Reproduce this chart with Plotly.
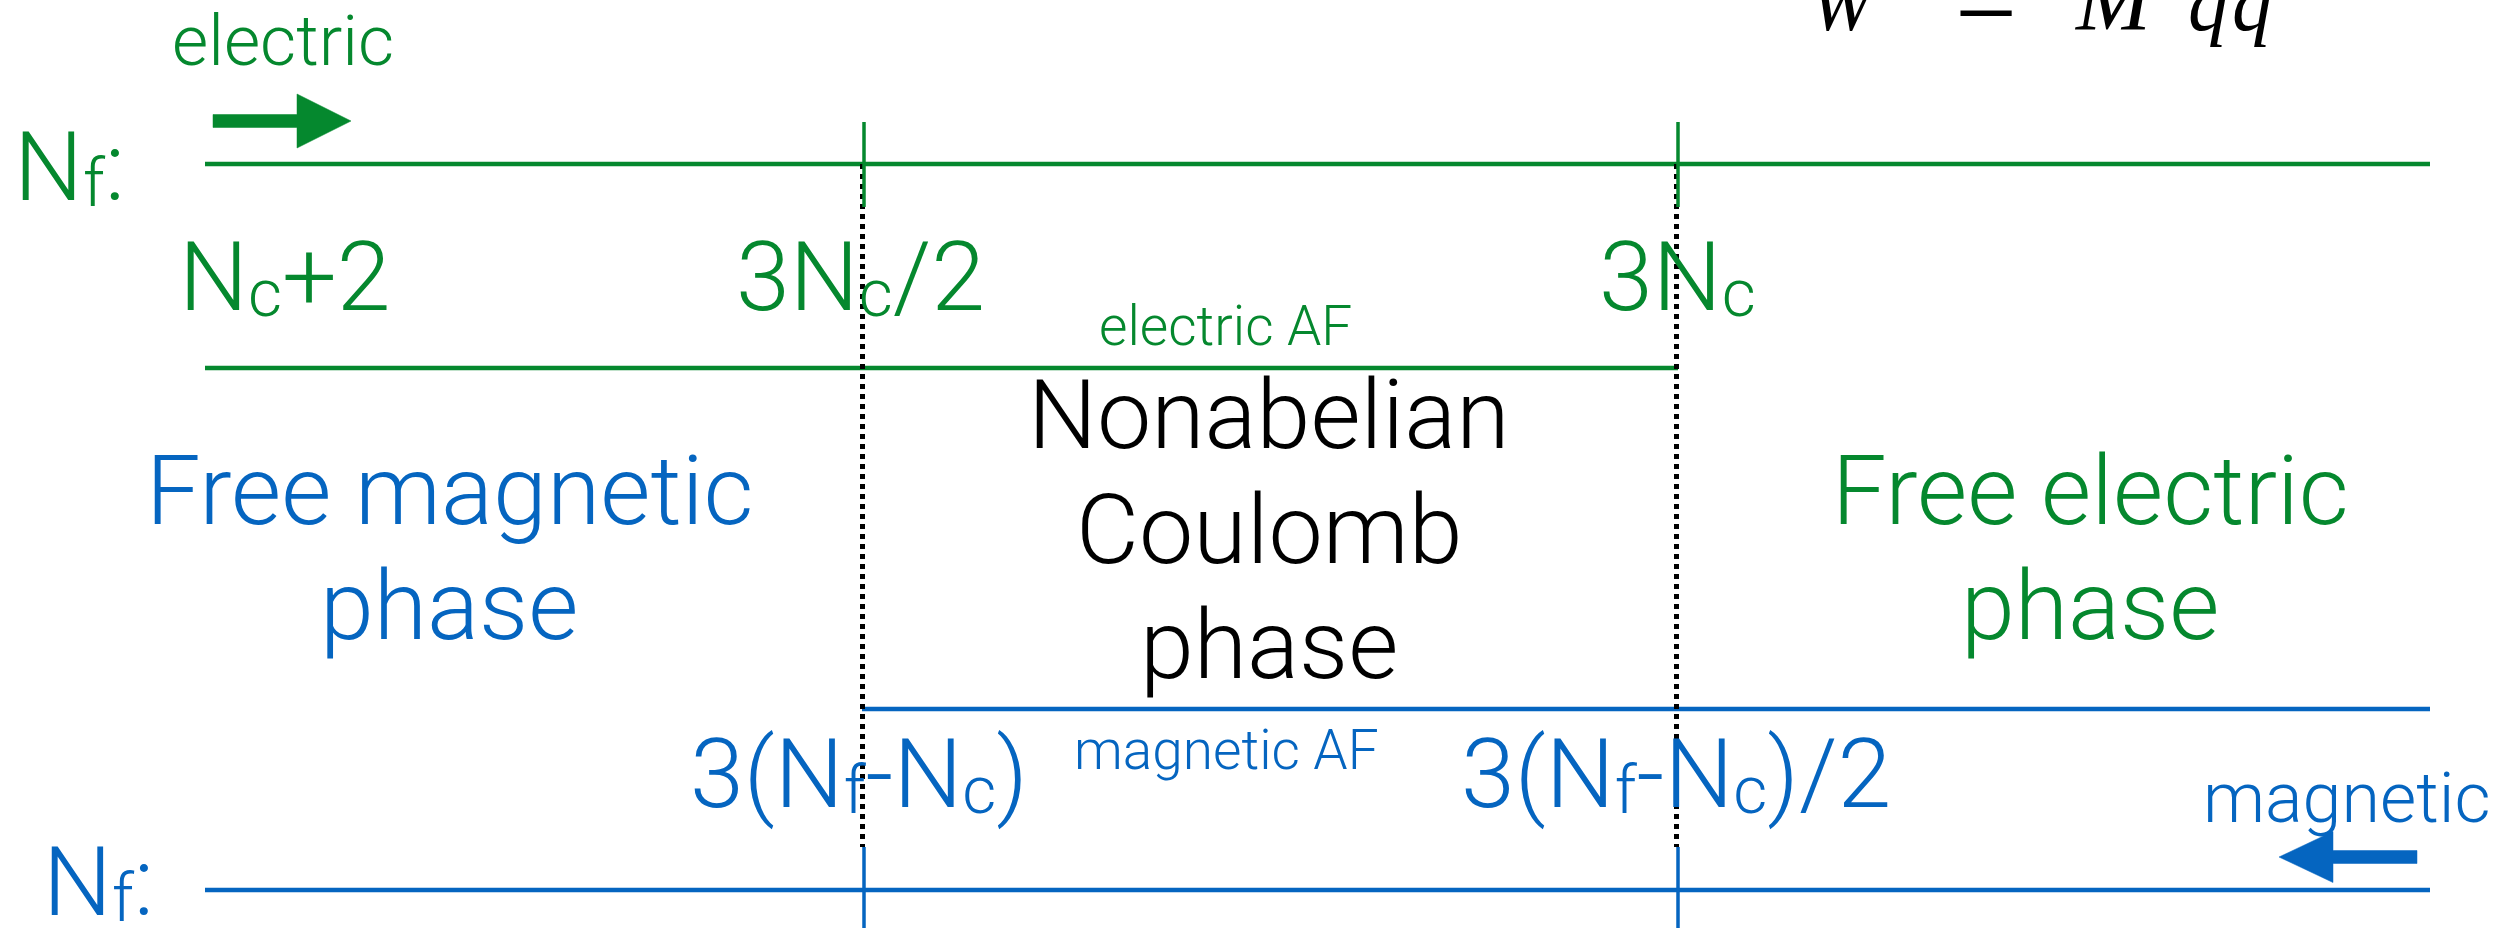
import plotly.graph_objects as go

# ---------------- data (schematic coordinates, 1 unit = 1 px of the sketch) ----------------
GREEN = "#05882E"
BLUE = "#0565C0"
BLACK = "#000000"

line_x_start = 205
line_x_end = 2430
boundary_x = [864, 1678]            # 3Nc/2 and 3Nc (electric)  == 3(Nf-Nc) and 3(Nf-Nc)/2 (magnetic)

# horizontal lines: (x0, x1, y, colour)
h_lines = [
    (line_x_start, line_x_end, 164, GREEN),     # Nf axis, electric
    (line_x_start, boundary_x[1], 368, GREEN),  # electric AF
    (boundary_x[0] - 2, line_x_end, 709, BLUE), # magnetic AF
    (line_x_start, line_x_end, 890, BLUE),      # Nf axis, magnetic
]
tick_top = (122, 207)
tick_bottom = (847, 928)
dotted_y = (164, 847)

SUB = '<span style="font-size:66px;baseline-shift:-6px">{}</span>'
Nf = "N" + SUB.format("f")
Nc = "N" + SUB.format("c")

# labels: (text, x, baseline, size, colour, xanchor)
labels = [
    ("electric", 283, 65, 70, GREEN, "center"),
    (Nf + ":", 14, 200, 97, GREEN, "left"),
    (Nc + "+2", 285, 310, 97, GREEN, "center"),
    ("3" + Nc + "/2", 860, 310, 97, GREEN, "center"),
    ("3" + Nc, 1677, 310, 97, GREEN, "center"),
    ("electric AF", 1225, 345, 55, GREEN, "center"),
    ("Nonabelian", 1269, 448, 97, BLACK, "center"),
    ("Coulomb", 1269, 563, 97, BLACK, "center"),
    ("phase", 1269, 678, 97, BLACK, "center"),
    ("Free magnetic", 449, 524, 97, BLUE, "center"),
    ("phase", 449, 639, 97, BLUE, "center"),
    ("Free electric", 2090, 524, 97, GREEN, "center"),
    ("phase", 2090, 639, 97, GREEN, "center"),
    ("3(" + Nf + "-" + Nc + ")", 859, 807, 97, BLUE, "center"),
    ("magnetic AF", 1226, 769, 55, BLUE, "center"),
    ("3(" + Nf + "-" + Nc + ")/2", 1676, 807, 97, BLUE, "center"),
    ("magnetic", 2347, 822, 70, BLUE, "center"),
    (Nf + ":", 43, 915, 97, BLUE, "left"),
]

# superpotential W = M q q~ (cut at the top edge): (text, x, baseline, size, xanchor)
formula = [
    ("<i>W</i>", 1810, 30, 76, "left"),
    ("=", 1986, 39, 110, "center"),
    ("<i>M</i>", 2074, 30, 90, "left"),
    ("<i>q</i>", 2188, 30, 80, "left"),
    ("<i>q\u0303</i>", 2232, 30, 80, "left"),
]

# arrows: (tail_x, tip_x, y, shaft_half, head_half, head_len, colour)
arrows = [
    (213, 351, 121, 6.5, 27, 54, GREEN),
    (2417, 2279, 857, 6.5, 25.5, 54, BLUE),
]

W, H = 2520, 928
SANS = "Roboto"
ASC = 0.928       # ascent of the sans font (em)
SERIF_DESC = 0.216

fig = go.Figure()

for x0, x1, y, c in h_lines:
    fig.add_trace(go.Scatter(x=[x0, x1], y=[y, y], mode="lines",
                             line=dict(color=c, width=4.5), hoverinfo="skip"))

for bx in boundary_x:
    fig.add_trace(go.Scatter(x=[bx - 1.5, bx - 1.5], y=list(dotted_y), mode="lines",
                             line=dict(color=BLACK, width=5, dash="5px,5px"), hoverinfo="skip"))
    fig.add_trace(go.Scatter(x=[bx, bx], y=list(tick_top), mode="lines",
                             line=dict(color=GREEN, width=3.5), hoverinfo="skip"))
    fig.add_trace(go.Scatter(x=[bx, bx], y=list(tick_bottom), mode="lines",
                             line=dict(color=BLUE, width=3.5), hoverinfo="skip"))

for tail, tip, y, sh, hh, hl, c in arrows:
    d = 1 if tip > tail else -1
    base = tip - d * hl
    xs = [tail, base, base, tip, base, base, tail, tail]
    ys = [y - sh, y - sh, y - hh, y, y + hh, y + sh, y + sh, y - sh]
    fig.add_trace(go.Scatter(x=xs, y=ys, mode="lines", fill="toself", fillcolor=c,
                             line=dict(color=c, width=0.5), hoverinfo="skip"))

for text, x, base, size, col, xa in labels:
    fig.add_annotation(text=text, x=x, y=base - ASC * size, xref="x", yref="y",
                       xanchor=xa, yanchor="top", showarrow=False, borderpad=0, borderwidth=0,
                       font=dict(family=SANS, size=size, color=col, weight=300))

for text, x, base, size, xa in formula:
    fig.add_annotation(text=text, x=x, y=base + SERIF_DESC * size,
                       xref="x", yref="y", xanchor=xa, yanchor="bottom", showarrow=False,
                       borderpad=0, borderwidth=0,
                       font=dict(family="Liberation Serif", size=size, color=BLACK))

fig.update_layout(
    width=W, height=H, margin=dict(l=0, r=0, t=0, b=0),
    paper_bgcolor="white", plot_bgcolor="white", showlegend=False,
    xaxis=dict(range=[0, W], visible=False, fixedrange=True),
    yaxis=dict(range=[H, 0], visible=False, fixedrange=True),
)

fig.write_html("out.html", config={"displayModeBar": False},
               post_script="document.body.style.margin='0';document.body.style.overflow='hidden';")
